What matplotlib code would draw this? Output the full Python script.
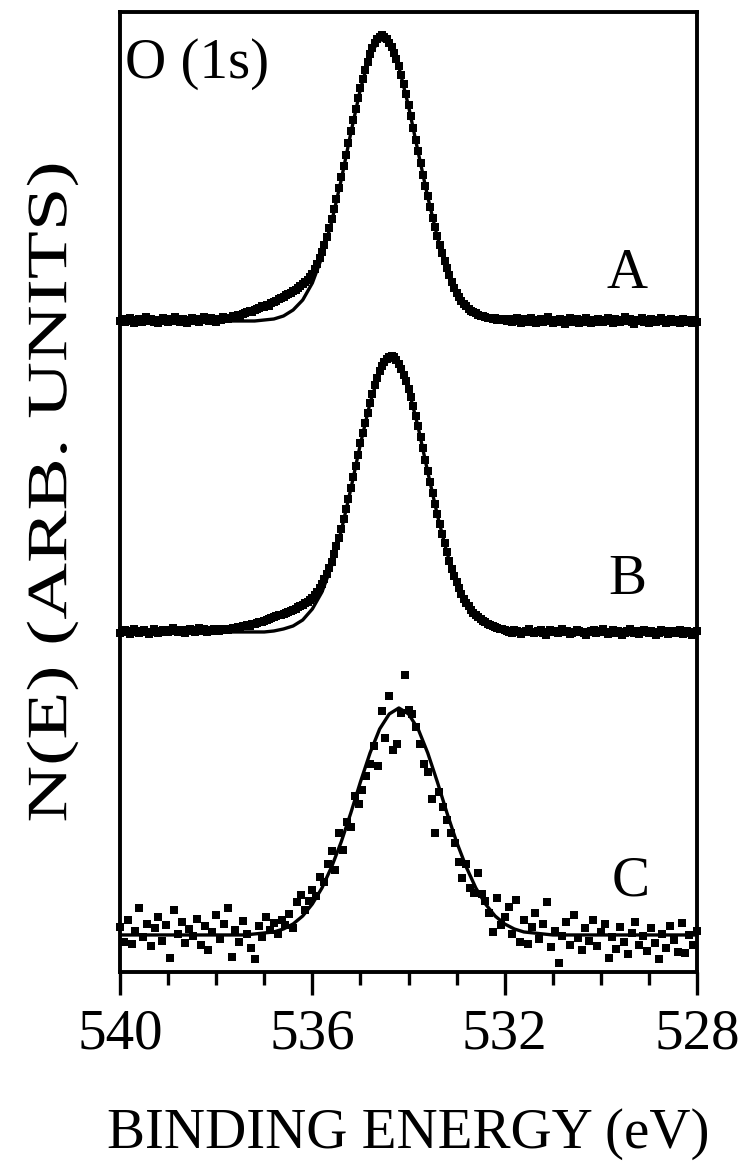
"""
O(1s) XPS spectra A, B, C: measured points (squares) with fitted peaks (lines).
"""
import matplotlib
matplotlib.use("Agg")
import matplotlib.pyplot as plt
from matplotlib.ticker import MultipleLocator
from matplotlib.patheffects import AbstractPathEffect
from matplotlib.transforms import Affine2D
import numpy as np

plt.rcParams["font.family"] = ["Liberation Serif", "DejaVu Serif"]

# ── Data (binding energy in eV, intensity in arbitrary units, curves stacked) ──
E_AB = np.linspace(540.0, 528.0, 241)     # 0.05 eV steps for A and B
E_C = np.linspace(540.0, 528.0, 151)      # 0.08 eV steps for C
E_FIT = np.linspace(540.0, 528.0, 61)     # 0.2 eV steps for the fits

A_DATA = [
    # 540.00 - 537.80
    651, 653, 650, 652, 654, 651, 649, 652, 653, 650,
    652, 655, 651, 653, 650, 652, 649, 651, 654, 652,
    650, 653, 651, 655, 652, 650, 653, 651, 649, 652,
    654, 651, 653, 650, 652, 655, 653, 651, 654, 652,
    650, 653, 652, 655, 653,
    # 537.75 - 532.00
    653, 654, 656, 655, 657, 656, 658, 659, 660, 661,
    660, 662, 663, 664, 666, 665, 667, 666, 669, 670,
    671, 673, 674, 675, 677, 678, 679, 681, 682, 684,
    686, 688, 690, 692, 695, 698, 703, 708, 714, 720,
    727, 735, 744, 753, 763, 773, 784, 795, 806, 817,
    829, 841, 852, 863, 874, 884, 893, 902, 910, 918,
    924, 929, 933, 935, 937, 935, 933, 929, 925, 919,
    913, 906, 897, 888, 878, 867, 856, 844, 832, 821,
    809, 797, 786, 776, 765, 754, 745, 736, 727, 719,
    711, 704, 697, 690, 684, 679, 675, 671, 668, 666,
    663, 661, 660, 659, 657, 656, 656, 655, 654, 654,
    653, 654, 652, 653, 652, 653,
    # 531.95 - 528.00
    651, 653, 650, 652, 654, 651, 649, 653, 652, 650,
    654, 652, 649, 651, 653, 650, 652, 655, 651, 649,
    652, 650, 653, 651, 648, 652, 654, 650, 651, 653,
    649, 652, 650, 654, 651, 649, 652, 650, 653, 651,
    650, 652, 654, 651, 649, 653, 651, 650, 652, 655,
    651, 653, 650, 648, 652, 651, 654, 650, 652, 649,
    653, 651, 650, 652, 654, 651, 649, 652, 653, 650,
    652, 651, 649, 653, 650, 652, 651, 649, 652, 650,
]
B_DATA = [
    # 540.00 - 537.80
    339, 341, 342, 340, 338, 341, 343, 340, 339, 341,
    342, 340, 338, 340, 343, 341, 339, 340, 342, 341,
    340, 342, 344, 341, 340, 342, 341, 339, 342, 343,
    341, 340, 342, 344, 341, 343, 340, 342, 341, 343,
    342, 341, 343, 342, 343,
    # 537.75 - 532.00
    342, 343, 344, 344, 345, 344, 346, 346, 347, 346,
    348, 348, 349, 350, 350, 351, 352, 353, 354, 355,
    356, 357, 357, 358, 359, 360, 361, 362, 363, 365,
    366, 367, 369, 370, 372, 374, 377, 380, 384, 388,
    393, 398, 404, 410, 418, 426, 434, 443, 453, 463,
    473, 484, 495, 506, 517, 529, 539, 549, 559, 569,
    578, 587, 594, 601, 606, 610, 613, 615, 616, 615,
    612, 608, 603, 597, 591, 583, 575, 566, 556, 546,
    535, 524, 512, 501, 490, 479, 468, 458, 448, 438,
    429, 420, 411, 403, 396, 390, 384, 378, 373, 369,
    366, 362, 359, 357, 355, 353, 351, 350, 348, 347,
    346, 345, 344, 343, 343, 342,
    # 531.95 - 528.00
    341, 340, 339, 342, 341, 340, 338, 340, 341, 343,
    340, 339, 340, 341, 342, 339, 337, 340, 342, 341,
    340, 339, 341, 343, 340, 341, 338, 339, 340, 342,
    341, 340, 339, 337, 340, 341, 342, 339, 340, 341,
    343, 340, 338, 340, 342, 339, 341, 340, 337, 339,
    341, 343, 340, 339, 341, 338, 340, 342, 340, 339,
    341, 340, 337, 339, 342, 340, 341, 338, 340, 341,
    339, 340, 342, 338, 340, 341, 339, 337, 340, 341,
]
C_DATA = [
    45, 30, 52, 28, 41, 64, 35, 48, 26, 44,
    55, 31, 47, 14, 62, 38, 50, 29, 43, 36,
    53, 27, 46, 22, 40, 57, 33, 48, 64, 15,
    42, 30, 51, 38, 24, 13, 46, 35, 55, 42,
    49, 38, 52, 47, 58, 44, 70, 77, 62, 71,
    82, 76, 95, 90, 108, 121, 102, 139, 122, 150,
    145, 176, 168, 182, 196, 208, 226, 206, 261, 234,
    276, 222, 228, 259, 297, 262, 258, 245, 228, 208,
    200, 173, 139, 180, 165, 152, 139, 129, 110, 94,
    108, 84, 79, 99, 78, 71, 59, 40, 74, 47,
    55, 65, 38, 72, 30, 52, 28, 45, 59, 33,
    48, 70, 25, 41, 9, 36, 50, 27, 57, 34,
    22, 44, 31, 52, 26, 40, 48, 14, 35, 23,
    45, 30, 18, 39, 50, 27, 36, 21, 44, 29,
    13, 38, 24, 46, 32, 20, 49, 19, 37, 27,
    41,
]

A_FIT = [
    651, 651, 651, 651, 651, 651, 651, 651, 651, 651,
    651, 651, 651, 651, 651, 652, 653, 656, 662, 672,
    689, 715, 750, 792, 839, 883, 917, 933, 929, 905,
    866, 820, 775, 735, 704, 680, 666, 659, 655, 653,
    652, 651, 651, 651, 651, 651, 651, 651, 651, 651,
    651, 651, 651, 651, 651, 651, 651, 651, 651, 651,
    651,
]
B_FIT = [
    340, 340, 340, 340, 340, 340, 340, 340, 340, 340,
    340, 340, 340, 340, 340, 340, 341, 343, 346, 352,
    363, 380, 406, 441, 483, 528, 569, 600, 613, 608,
    583, 545, 500, 457, 419, 389, 370, 357, 349, 345,
    342, 341, 340, 340, 340, 340, 340, 340, 340, 340,
    340, 340, 340, 340, 340, 340, 340, 340, 340, 340,
    340,
]
C_FIT = [
    37, 37, 37, 37, 37, 37, 37, 37, 37, 37,
    37, 37, 37, 37, 38, 39, 40, 43, 48, 56,
    68, 84, 105, 130, 159, 190, 219, 243, 258, 264,
    258, 243, 219, 190, 159, 130, 105, 84, 68, 56,
    48, 43, 40, 39, 38, 37, 37, 37, 37, 37,
    37, 37, 37, 37, 37, 37, 37, 37, 37, 37,
    37,
]

LABELS = ["A", "B", "C"]
XTICKS = [540, 536, 532, 528]

assert len(A_DATA) == len(B_DATA) == len(E_AB)
assert len(C_DATA) == len(E_C)
assert len(A_FIT) == len(B_FIT) == len(C_FIT) == len(E_FIT)

INK = "black"
FS = 41


class Stretch(AbstractPathEffect):
    """Widen the glyphs along the reading direction, about the text centre."""

    def __init__(self, sx):
        super().__init__()
        self.sx = sx

    def draw_path(self, renderer, gc, tpath, affine, rgbFace=None):
        ext = tpath.get_extents()
        cx = 0.5 * (ext.x0 + ext.x1)
        pre = Affine2D().translate(-cx, 0).scale(self.sx, 1).translate(cx, 0)
        renderer.draw_path(gc, tpath, pre + affine, rgbFace)


fig = plt.figure(figsize=(7.46, 11.65), dpi=100)
ax = fig.add_axes([0.1609, 0.1657, 0.7734, 0.8240])

series = [(E_AB, A_DATA, A_FIT, 5.8), (E_AB, B_DATA, B_FIT, 5.8),
          (E_C, C_DATA, C_FIT, 6.0)]
for e, pts, fit, ms in series:
    ax.plot(e, pts, ls="none", marker="s", ms=ms, mfc=INK, mec=INK, mew=0,
            zorder=3, clip_on=False)
    ax.plot(E_FIT, fit, color=INK, lw=2.4, zorder=4)

ax.set_xlim(540, 528)
ax.set_ylim(0, 960)
ax.set_yticks([])
ax.set_xticks(XTICKS)
ax.set_xticklabels([str(t) for t in XTICKS], fontsize=FS)
ax.xaxis.set_minor_locator(MultipleLocator(1))
ax.tick_params(axis="x", which="major", direction="out", length=16.5, width=2.4,
               pad=10, color=INK)
ax.tick_params(axis="x", which="minor", direction="out", length=9.5, width=2.4,
               color=INK)
for spine in ax.spines.values():
    spine.set_linewidth(2.8)

ax.set_xlabel("BINDING ENERGY (eV)", fontsize=FS, labelpad=34)
ylab = ax.set_ylabel("N(E) (ARB. UNITS)", fontsize=FS, labelpad=30)
ylab.set_path_effects([Stretch(1.38)])

# Panel and curve labels
ax.text(0.009, 0.931, "O (1s)", transform=ax.transAxes, fontsize=FS,
        ha="left", va="baseline")
for lab, (lx, ly) in zip(LABELS, [(0.843, 0.713), (0.847, 0.394), (0.852, 0.080)]):
    ax.text(lx, ly, lab, transform=ax.transAxes, fontsize=FS,
            ha="left", va="baseline")

fig.savefig("out.png", dpi=100, facecolor="white")
